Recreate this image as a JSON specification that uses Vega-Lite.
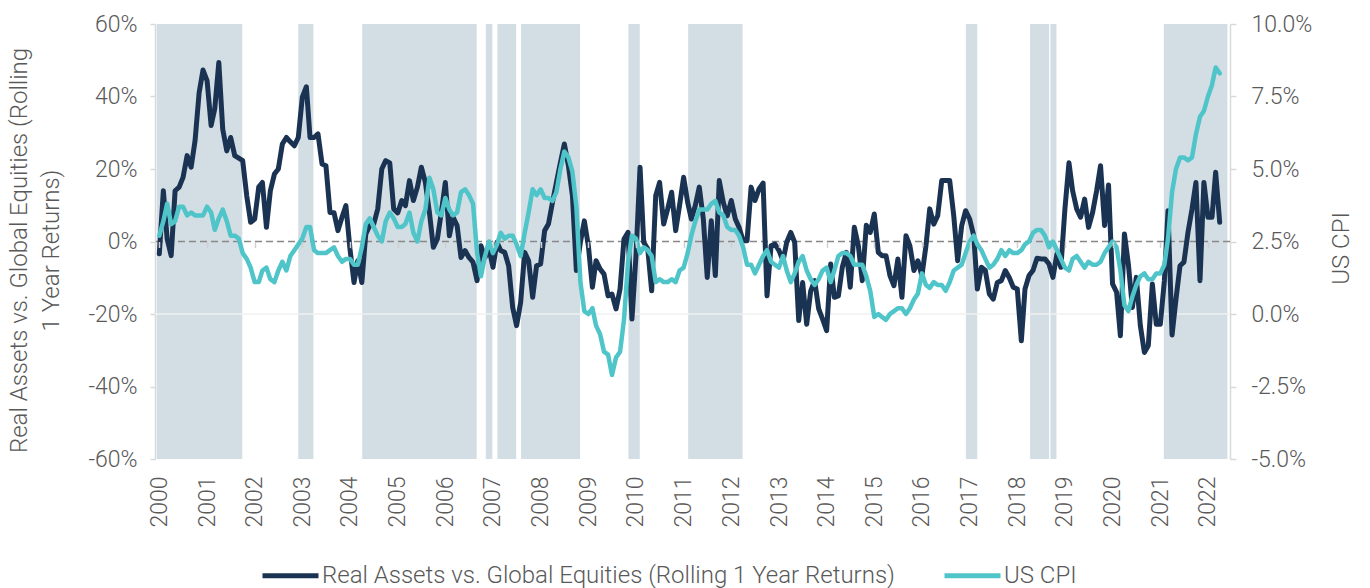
{
  "$schema": "https://vega.github.io/schema/vega-lite/v6.json",
  "width": 1075,
  "height": 435,
  "autosize": {"type": "none"},
  "padding": {"left": 155, "top": 24, "right": 140, "bottom": 129},
  "background": "white",
  "config": {
    "font": "Roboto",
    "view": {"stroke": null},
    "axis": {
      "labelFont": "Roboto", "labelFontWeight": 300, "labelColor": "#595959", "labelFontSize": 23,
      "titleFont": "Roboto", "titleFontWeight": 300, "titleColor": "#595959", "titleFontSize": 24,
      "grid": false, "domainColor": "#d9d9d9", "tickColor": "#d9d9d9", "domainWidth": 1.5, "tickWidth": 1.5
    }
  },
  "datasets": {
    "bands": [
      {"start": "1999-12-12", "end": "2001-09-28"},
      {"start": "2002-12-01", "end": "2003-03-27"},
      {"start": "2004-04-04", "end": "2006-08-29"},
      {"start": "2006-11-07", "end": "2006-12-27"},
      {"start": "2007-02-04", "end": "2007-06-28"},
      {"start": "2007-08-04", "end": "2008-10-29"},
      {"start": "2009-11-04", "end": "2010-01-30"},
      {"start": "2011-02-05", "end": "2012-03-28"},
      {"start": "2016-12-03", "end": "2017-02-28"},
      {"start": "2018-04-09", "end": "2018-09-02"},
      {"start": "2018-09-12", "end": "2018-10-28"},
      {"start": "2021-01-28", "end": "2022-05-30"}
    ],
    "zero": [{"ra": 0, "ra2": -20}],
    "main": [
      {"d":"2000-01-01","ra":-3.4,"cpi":2.7},{"d":"2000-02-01","ra":14,"cpi":3.2},{"d":"2000-03-01","ra":0.7,"cpi":3.8},{"d":"2000-04-01","ra":-3.9,"cpi":3.1},{"d":"2000-05-01","ra":14,"cpi":3.2},{"d":"2000-06-01","ra":15,"cpi":3.7},{"d":"2000-07-01","ra":17.7,"cpi":3.7},{"d":"2000-08-01","ra":23.7,"cpi":3.4},{"d":"2000-09-01","ra":20.5,"cpi":3.5},{"d":"2000-10-01","ra":27.8,"cpi":3.4},{"d":"2000-11-01","ra":41,"cpi":3.4},{"d":"2000-12-01","ra":47.3,"cpi":3.4},
      {"d":"2001-01-01","ra":44.4,"cpi":3.7},{"d":"2001-02-01","ra":32,"cpi":3.5},{"d":"2001-03-01","ra":36.6,"cpi":2.9},{"d":"2001-04-01","ra":49.4,"cpi":3.3},{"d":"2001-05-01","ra":31,"cpi":3.6},{"d":"2001-06-01","ra":25,"cpi":3.2},{"d":"2001-07-01","ra":28.7,"cpi":2.7},{"d":"2001-08-01","ra":23.7,"cpi":2.7},{"d":"2001-09-01","ra":23,"cpi":2.6},{"d":"2001-10-01","ra":22.3,"cpi":2.1},{"d":"2001-11-01","ra":12.6,"cpi":1.9},{"d":"2001-12-01","ra":5.3,"cpi":1.6},
      {"d":"2002-01-01","ra":6.2,"cpi":1.1},{"d":"2002-02-01","ra":15,"cpi":1.1},{"d":"2002-03-01","ra":16.3,"cpi":1.5},{"d":"2002-04-01","ra":3.9,"cpi":1.6},{"d":"2002-05-01","ra":14,"cpi":1.2},{"d":"2002-06-01","ra":18.6,"cpi":1.1},{"d":"2002-07-01","ra":20,"cpi":1.5},{"d":"2002-08-01","ra":26.9,"cpi":1.8},{"d":"2002-09-01","ra":28.7,"cpi":1.5},{"d":"2002-10-01","ra":27.5,"cpi":2.0},{"d":"2002-11-01","ra":26.4,"cpi":2.2},{"d":"2002-12-01","ra":28.7,"cpi":2.4},
      {"d":"2003-01-01","ra":39.8,"cpi":2.6},{"d":"2003-02-01","ra":42.7,"cpi":3.0},{"d":"2003-03-01","ra":28.7,"cpi":3.0},{"d":"2003-04-01","ra":28.7,"cpi":2.2},{"d":"2003-05-01","ra":29.7,"cpi":2.1},{"d":"2003-06-01","ra":21.4,"cpi":2.1},{"d":"2003-07-01","ra":20.9,"cpi":2.1},{"d":"2003-08-01","ra":8,"cpi":2.2},{"d":"2003-09-01","ra":7.9,"cpi":2.3},{"d":"2003-10-01","ra":3,"cpi":2.0},{"d":"2003-11-01","ra":6.7,"cpi":1.8},{"d":"2003-12-01","ra":9.9,"cpi":1.9},
      {"d":"2004-01-01","ra":-2,"cpi":1.9},{"d":"2004-02-01","ra":-11.3,"cpi":1.7},{"d":"2004-03-01","ra":-5.3,"cpi":1.7},{"d":"2004-04-01","ra":-11.3,"cpi":2.3},{"d":"2004-05-01","ra":2,"cpi":3.1},{"d":"2004-06-01","ra":4.4,"cpi":3.3},{"d":"2004-07-01","ra":4.8,"cpi":3.0},{"d":"2004-08-01","ra":9,"cpi":2.7},{"d":"2004-09-01","ra":20,"cpi":2.5},{"d":"2004-10-01","ra":22.3,"cpi":3.2},{"d":"2004-11-01","ra":21.7,"cpi":3.5},{"d":"2004-12-01","ra":9,"cpi":3.3},
      {"d":"2005-01-01","ra":7.9,"cpi":3.0},{"d":"2005-02-01","ra":11.3,"cpi":3.0},{"d":"2005-03-01","ra":9.9,"cpi":3.1},{"d":"2005-04-01","ra":16.8,"cpi":3.5},{"d":"2005-05-01","ra":11.3,"cpi":2.8},{"d":"2005-06-01","ra":15,"cpi":2.5},{"d":"2005-07-01","ra":20.5,"cpi":3.2},{"d":"2005-08-01","ra":16.3,"cpi":3.6},{"d":"2005-09-01","ra":8,"cpi":4.7},{"d":"2005-10-01","ra":-1.6,"cpi":4.3},{"d":"2005-11-01","ra":0.7,"cpi":3.5},{"d":"2005-12-01","ra":8,"cpi":3.4},
      {"d":"2006-01-01","ra":16.3,"cpi":4.0},{"d":"2006-02-01","ra":1.6,"cpi":3.6},{"d":"2006-03-01","ra":6.7,"cpi":3.4},{"d":"2006-04-01","ra":4.4,"cpi":3.5},{"d":"2006-05-01","ra":-4.4,"cpi":4.2},{"d":"2006-06-01","ra":-2.5,"cpi":4.3},{"d":"2006-07-01","ra":-4.4,"cpi":4.1},{"d":"2006-08-01","ra":-5.7,"cpi":3.8},{"d":"2006-09-01","ra":-10.8,"cpi":2.1},{"d":"2006-10-01","ra":-1.2,"cpi":1.3},{"d":"2006-11-01","ra":-4.4,"cpi":2.0},{"d":"2006-12-01","ra":-2,"cpi":2.5},
      {"d":"2007-01-01","ra":-7.1,"cpi":2.1},{"d":"2007-02-01","ra":-0.2,"cpi":2.4},{"d":"2007-03-01","ra":-2.5,"cpi":2.8},{"d":"2007-04-01","ra":-3,"cpi":2.6},{"d":"2007-05-01","ra":-6.7,"cpi":2.7},{"d":"2007-06-01","ra":-18.2,"cpi":2.7},{"d":"2007-07-01","ra":-23.2,"cpi":2.4},{"d":"2007-08-01","ra":-16.8,"cpi":2.0},{"d":"2007-09-01","ra":-3,"cpi":2.8},{"d":"2007-10-01","ra":-5.3,"cpi":3.5},{"d":"2007-11-01","ra":-15.4,"cpi":4.3},{"d":"2007-12-01","ra":-6.7,"cpi":4.1},
      {"d":"2008-01-01","ra":-6.2,"cpi":4.3},{"d":"2008-02-01","ra":3,"cpi":4.0},{"d":"2008-03-01","ra":4.8,"cpi":4.0},{"d":"2008-04-01","ra":10.8,"cpi":3.9},{"d":"2008-05-01","ra":16.3,"cpi":4.2},{"d":"2008-06-01","ra":21.8,"cpi":5.0},{"d":"2008-07-01","ra":26.9,"cpi":5.6},{"d":"2008-08-01","ra":20.9,"cpi":5.4},{"d":"2008-09-01","ra":12.6,"cpi":4.9},{"d":"2008-10-01","ra":-8,"cpi":3.7},{"d":"2008-11-01","ra":-0.2,"cpi":1.1},{"d":"2008-12-01","ra":5.7,"cpi":0.1},
      {"d":"2009-01-01","ra":-1.2,"cpi":0.0},{"d":"2009-02-01","ra":-12.6,"cpi":0.2},{"d":"2009-03-01","ra":-5.3,"cpi":-0.4},{"d":"2009-04-01","ra":-7.6,"cpi":-0.7},{"d":"2009-05-01","ra":-9,"cpi":-1.3},{"d":"2009-06-01","ra":-15,"cpi":-1.4},{"d":"2009-07-01","ra":-14.5,"cpi":-2.1},{"d":"2009-08-01","ra":-18.6,"cpi":-1.5},{"d":"2009-09-01","ra":-13.1,"cpi":-1.3},{"d":"2009-10-01","ra":0.7,"cpi":-0.2},{"d":"2009-11-01","ra":2.5,"cpi":1.8},{"d":"2009-12-01","ra":-21.4,"cpi":2.7},
      {"d":"2010-01-01","ra":-3.9,"cpi":2.6},{"d":"2010-02-01","ra":20.5,"cpi":2.1},{"d":"2010-03-01","ra":-0.2,"cpi":2.3},{"d":"2010-04-01","ra":-2,"cpi":2.2},{"d":"2010-05-01","ra":-13.6,"cpi":2.0},{"d":"2010-06-01","ra":12.6,"cpi":1.1},{"d":"2010-07-01","ra":16.3,"cpi":1.2},{"d":"2010-08-01","ra":4.8,"cpi":1.1},{"d":"2010-09-01","ra":9,"cpi":1.1},{"d":"2010-10-01","ra":13.6,"cpi":1.2},{"d":"2010-11-01","ra":3,"cpi":1.1},{"d":"2010-12-01","ra":10,"cpi":1.5},
      {"d":"2011-01-01","ra":17.7,"cpi":1.6},{"d":"2011-02-01","ra":10.8,"cpi":2.1},{"d":"2011-03-01","ra":6.2,"cpi":2.7},{"d":"2011-04-01","ra":10,"cpi":3.2},{"d":"2011-05-01","ra":15,"cpi":3.6},{"d":"2011-06-01","ra":6.2,"cpi":3.6},{"d":"2011-07-01","ra":-9.9,"cpi":3.6},{"d":"2011-08-01","ra":5.7,"cpi":3.8},{"d":"2011-09-01","ra":-9.4,"cpi":3.9},{"d":"2011-10-01","ra":16.8,"cpi":3.5},{"d":"2011-11-01","ra":10.8,"cpi":3.4},{"d":"2011-12-01","ra":7.1,"cpi":3.0},
      {"d":"2012-01-01","ra":11.3,"cpi":2.9},{"d":"2012-02-01","ra":6.2,"cpi":2.9},{"d":"2012-03-01","ra":3.9,"cpi":2.7},{"d":"2012-04-01","ra":0.2,"cpi":2.3},{"d":"2012-05-01","ra":0.2,"cpi":1.7},{"d":"2012-06-01","ra":15,"cpi":1.7},{"d":"2012-07-01","ra":11.3,"cpi":1.4},{"d":"2012-08-01","ra":14.5,"cpi":1.7},{"d":"2012-09-01","ra":16.1,"cpi":2.0},{"d":"2012-10-01","ra":-15,"cpi":2.2},{"d":"2012-11-01","ra":-1.2,"cpi":1.8},{"d":"2012-12-01","ra":-0.7,"cpi":1.7},
      {"d":"2013-01-01","ra":-2.5,"cpi":1.6},{"d":"2013-02-01","ra":-5.3,"cpi":2.0},{"d":"2013-03-01","ra":-0.2,"cpi":1.5},{"d":"2013-04-01","ra":2.5,"cpi":1.1},{"d":"2013-05-01","ra":-0.2,"cpi":1.4},{"d":"2013-06-01","ra":-21.8,"cpi":1.8},{"d":"2013-07-01","ra":-11.3,"cpi":2.0},{"d":"2013-08-01","ra":-22.8,"cpi":1.5},{"d":"2013-09-01","ra":-13.6,"cpi":1.2},{"d":"2013-10-01","ra":-10.8,"cpi":1.0},{"d":"2013-11-01","ra":-18.6,"cpi":1.2},{"d":"2013-12-01","ra":-21.4,"cpi":1.5},
      {"d":"2014-01-01","ra":-24.6,"cpi":1.6},{"d":"2014-02-01","ra":-6.2,"cpi":1.1},{"d":"2014-03-01","ra":-15.4,"cpi":1.5},{"d":"2014-04-01","ra":-15,"cpi":2.0},{"d":"2014-05-01","ra":-7.1,"cpi":2.1},{"d":"2014-06-01","ra":-3,"cpi":2.1},{"d":"2014-07-01","ra":-12.6,"cpi":2.0},{"d":"2014-08-01","ra":3.9,"cpi":1.7},{"d":"2014-09-01","ra":-1.2,"cpi":1.7},{"d":"2014-10-01","ra":-10.8,"cpi":1.7},{"d":"2014-11-01","ra":4.5,"cpi":1.3},{"d":"2014-12-01","ra":2.5,"cpi":0.8},
      {"d":"2015-01-01","ra":7.6,"cpi":-0.1},{"d":"2015-02-01","ra":-3,"cpi":0.0},{"d":"2015-03-01","ra":-3.9,"cpi":-0.1},{"d":"2015-04-01","ra":-3.9,"cpi":-0.2},{"d":"2015-05-01","ra":-9.4,"cpi":0.0},{"d":"2015-06-01","ra":-12.2,"cpi":0.1},{"d":"2015-07-01","ra":-4.8,"cpi":0.2},{"d":"2015-08-01","ra":-15.4,"cpi":0.2},{"d":"2015-09-01","ra":1.6,"cpi":0.0},{"d":"2015-10-01","ra":-1.2,"cpi":0.2},{"d":"2015-11-01","ra":-8,"cpi":0.5},{"d":"2015-12-01","ra":-5.3,"cpi":0.7},
      {"d":"2016-01-01","ra":-9.4,"cpi":1.4},{"d":"2016-02-01","ra":-1.2,"cpi":1.0},{"d":"2016-03-01","ra":9,"cpi":0.9},{"d":"2016-04-01","ra":4.8,"cpi":1.1},{"d":"2016-05-01","ra":7.1,"cpi":1.0},{"d":"2016-06-01","ra":16.8,"cpi":1.0},{"d":"2016-07-01","ra":16.8,"cpi":0.8},{"d":"2016-08-01","ra":16.8,"cpi":1.1},{"d":"2016-09-01","ra":7.1,"cpi":1.5},{"d":"2016-10-01","ra":-5.3,"cpi":1.6},{"d":"2016-11-01","ra":4.4,"cpi":1.7},{"d":"2016-12-01","ra":8.5,"cpi":2.1},
      {"d":"2017-01-01","ra":6.2,"cpi":2.5},{"d":"2017-02-01","ra":1.6,"cpi":2.7},{"d":"2017-03-01","ra":-13.1,"cpi":2.4},{"d":"2017-04-01","ra":-7.1,"cpi":2.2},{"d":"2017-05-01","ra":-8,"cpi":1.9},{"d":"2017-06-01","ra":-14.5,"cpi":1.6},{"d":"2017-07-01","ra":-15.9,"cpi":1.7},{"d":"2017-08-01","ra":-11.3,"cpi":1.9},{"d":"2017-09-01","ra":-10.8,"cpi":2.2},{"d":"2017-10-01","ra":-8,"cpi":2.0},{"d":"2017-11-01","ra":-10,"cpi":2.2},{"d":"2017-12-01","ra":-12.6,"cpi":2.1},
      {"d":"2018-01-01","ra":-13.1,"cpi":2.1},{"d":"2018-02-01","ra":-27.4,"cpi":2.2},{"d":"2018-03-01","ra":-13.1,"cpi":2.4},{"d":"2018-04-01","ra":-9.4,"cpi":2.5},{"d":"2018-05-01","ra":-8,"cpi":2.8},{"d":"2018-06-01","ra":-4.6,"cpi":2.9},{"d":"2018-07-01","ra":-4.8,"cpi":2.9},{"d":"2018-08-01","ra":-4.8,"cpi":2.7},{"d":"2018-09-01","ra":-6.2,"cpi":2.3},{"d":"2018-10-01","ra":-9.9,"cpi":2.5},{"d":"2018-11-01","ra":-3.4,"cpi":2.2},{"d":"2018-12-01","ra":-7.1,"cpi":1.9},
      {"d":"2019-01-01","ra":9,"cpi":1.6},{"d":"2019-02-01","ra":21.7,"cpi":1.5},{"d":"2019-03-01","ra":14,"cpi":1.9},{"d":"2019-04-01","ra":9,"cpi":2.0},{"d":"2019-05-01","ra":6.7,"cpi":1.8},{"d":"2019-06-01","ra":11.7,"cpi":1.6},{"d":"2019-07-01","ra":3.9,"cpi":1.8},{"d":"2019-08-01","ra":8,"cpi":1.7},{"d":"2019-09-01","ra":14,"cpi":1.7},{"d":"2019-10-01","ra":20.9,"cpi":1.8},{"d":"2019-11-01","ra":4.4,"cpi":2.1},{"d":"2019-12-01","ra":15.6,"cpi":2.3},
      {"d":"2020-01-01","ra":-11.7,"cpi":2.5},{"d":"2020-02-01","ra":-14,"cpi":2.3},{"d":"2020-03-01","ra":-26,"cpi":1.5},{"d":"2020-04-01","ra":2.1,"cpi":0.3},{"d":"2020-05-01","ra":-6.2,"cpi":0.1},{"d":"2020-06-01","ra":-18.2,"cpi":0.6},{"d":"2020-07-01","ra":-9.9,"cpi":1.0},{"d":"2020-08-01","ra":-23.2,"cpi":1.3},{"d":"2020-09-01","ra":-30.6,"cpi":1.4},{"d":"2020-10-01","ra":-28.7,"cpi":1.2},{"d":"2020-11-01","ra":-11.7,"cpi":1.2},{"d":"2020-12-01","ra":-22.8,"cpi":1.4},
      {"d":"2021-01-01","ra":-22.8,"cpi":1.4},{"d":"2021-02-01","ra":-10.8,"cpi":1.7},{"d":"2021-03-01","ra":8.5,"cpi":2.6},{"d":"2021-04-01","ra":-25.8,"cpi":4.2},{"d":"2021-05-01","ra":-15.9,"cpi":5.0},{"d":"2021-06-01","ra":-6.7,"cpi":5.4},{"d":"2021-07-01","ra":-5.7,"cpi":5.4},{"d":"2021-08-01","ra":2.5,"cpi":5.3},{"d":"2021-09-01","ra":9,"cpi":5.4},{"d":"2021-10-01","ra":16.3,"cpi":6.2},{"d":"2021-11-01","ra":-10.8,"cpi":6.8},{"d":"2021-12-01","ra":16.3,"cpi":7.0},
      {"d":"2022-01-01","ra":6.7,"cpi":7.5},{"d":"2022-02-01","ra":6.7,"cpi":7.9},{"d":"2022-03-01","ra":19.1,"cpi":8.5},{"d":"2022-04-01","ra":5.3,"cpi":8.3}
    ]
  },
  "layer": [
    {
      "data": {"name": "bands"},
      "mark": {"type": "rect", "color": "#d3dde4"},
      "encoding": {
        "x": {
          "field": "start", "type": "temporal",
          "scale": {"type": "utc", "domain": [{"year": 1999, "month": 11, "date": 29, "utc": true}, {"year": 2022, "month": 6, "date": 19, "utc": true}]},
          "axis": {"orient": "bottom", "domain": false, "ticks": false, "labelAngle": -90, "format": "%Y", "tickCount": {"interval": "year", "step": 1}, "labelPadding": 17, "labelFontSize": 23, "title": null}
        },
        "x2": {"field": "end"}
      }
    },
    {
      "layer": [
        {
          "data": {"name": "zero"},
          "mark": {"type": "rule", "stroke": "#f0f0f0", "strokeWidth": 1.5},
          "encoding": {"y": {"field": "ra2", "type": "quantitative"}}
        },
        {
          "data": {"name": "zero"},
          "mark": {"type": "rule", "stroke": "#888888", "strokeWidth": 1.5, "strokeDash": [7, 4]},
          "encoding": {"y": {"field": "ra", "type": "quantitative"}}
        },
        {
          "data": {"name": "main"},
          "mark": {"type": "line", "strokeWidth": 5, "strokeJoin": "round", "strokeCap": "round"},
          "encoding": {
            "x": {
              "field": "d", "type": "temporal",
              "axis": {"orient": "bottom", "offset": -217.5, "labels": false, "domain": false, "ticks": true, "tickSize": 6, "tickColor": "#d0d0d0", "tickCount": {"interval": "year", "step": 1}, "title": null, "zindex": 1}
            },
            "y": {
              "field": "ra", "type": "quantitative",
              "scale": {"domain": [-60, 60], "nice": false, "zero": false},
              "axis": {
                "orient": "left", "values": [-60, -40, -20, 0, 20, 40, 60], "labelExpr": "datum.value + '%'",
                "tickSize": 5, "labelPadding": 13, "labelFontSize": 23,
                "title": ["Real Assets vs. Global Equities (Rolling", "1 Year Returns)"],
                "titleAngle": -90, "titleAlign": "center", "titleBaseline": "top", "titleX": -148, "titleY": 226,
                "titleLineHeight": 32, "titleLimit": 1000
              }
            },
            "color": {
              "datum": "Real Assets vs. Global Equities (Rolling 1 Year Returns)",
              "scale": {"domain": ["Real Assets vs. Global Equities (Rolling 1 Year Returns)", "US CPI"], "range": ["#1b3352", "#4fc5c9"]},
              "legend": {
                "orient": "none", "legendX": 105, "legendY": 521, "direction": "horizontal", "title": null,
                "symbolType": "stroke", "symbolSize": 3136, "symbolStrokeWidth": 5,
                "labelFontSize": 24, "labelColor": "#595959", "labelFont": "Roboto", "labelFontWeight": 300,
                "labelOffset": 1, "columnPadding": 39, "labelLimit": 1000, "padding": 0
              }
            }
          }
        }
      ]
    },
    {
      "data": {"name": "main"},
      "mark": {"type": "line", "strokeWidth": 4.5, "strokeJoin": "round", "strokeCap": "round"},
      "encoding": {
        "x": {"field": "d", "type": "temporal", "axis": null},
        "y": {
          "field": "cpi", "type": "quantitative",
          "scale": {"domain": [-5, 10], "nice": false, "zero": false},
          "axis": {
            "orient": "right", "values": [-5, -2.5, 0, 2.5, 5, 7.5, 10],
            "labelExpr": "replace(format(datum.value, '.1f'), '\u2212', '-') + '%'",
            "tickSize": 6, "labelPadding": 15, "labelFontSize": 23,
            "title": "US CPI", "titleAngle": -90, "titleAlign": "center", "titleBaseline": "top",
            "titleX": 99, "titleY": 224, "titleFontSize": 24
          }
        },
        "color": {"datum": "US CPI"}
      }
    }
  ],
  "resolve": {"scale": {"y": "independent"}, "axis": {"x": "independent"}}
}
